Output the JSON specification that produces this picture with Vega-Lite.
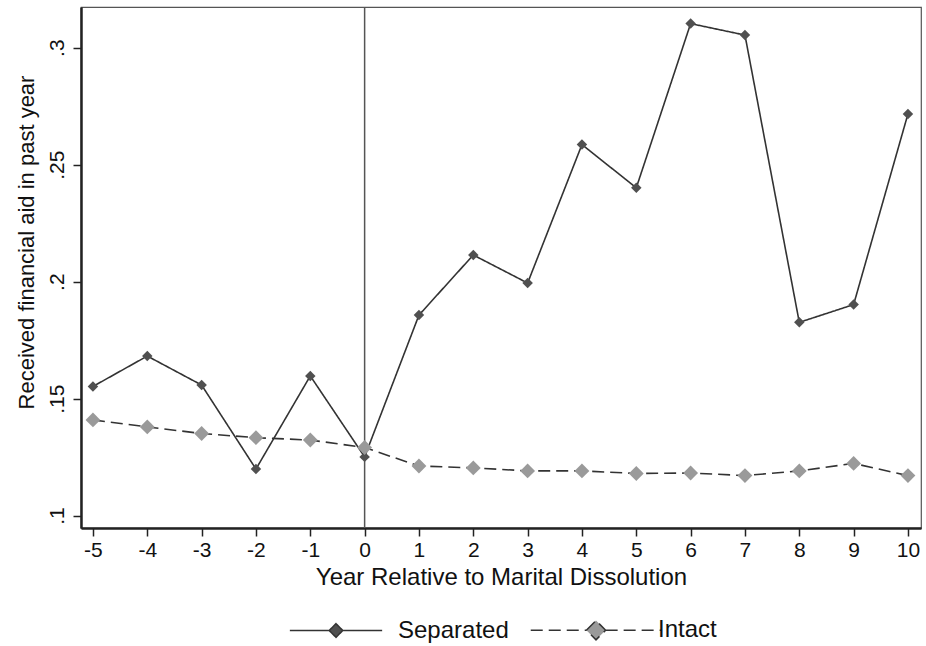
{
  "$schema": "https://vega.github.io/schema/vega-lite/v6.json",
  "width": 840,
  "height": 521,
  "autosize": {"type": "none"},
  "padding": {"left": 81, "top": 7, "right": 5, "bottom": 118},
  "background": "white",
  "config": {
    "font": "Liberation Sans",
    "view": {"stroke": "#555555", "strokeWidth": 1.2},
    "axis": {"grid": false, "domainColor": "#222222", "domainWidth": 2.5, "tickColor": "#222222", "tickWidth": 1.5, "tickSize": 8, "labelColor": "#111111", "titleColor": "#111111", "labelFont": "Liberation Sans", "titleFont": "Liberation Sans", "titleFontWeight": "normal"}
  },
  "datasets": {
    "series": [
      {"year": -5, "series": "Separated", "value": 0.1552},
      {"year": -4, "series": "Separated", "value": 0.1682},
      {"year": -3, "series": "Separated", "value": 0.1558},
      {"year": -2, "series": "Separated", "value": 0.1199},
      {"year": -1, "series": "Separated", "value": 0.1597},
      {"year": 0, "series": "Separated", "value": 0.1251},
      {"year": 1, "series": "Separated", "value": 0.1857},
      {"year": 2, "series": "Separated", "value": 0.2114},
      {"year": 3, "series": "Separated", "value": 0.1994},
      {"year": 4, "series": "Separated", "value": 0.2586},
      {"year": 5, "series": "Separated", "value": 0.2401},
      {"year": 6, "series": "Separated", "value": 0.3103},
      {"year": 7, "series": "Separated", "value": 0.3054},
      {"year": 8, "series": "Separated", "value": 0.1826},
      {"year": 9, "series": "Separated", "value": 0.1902},
      {"year": 10, "series": "Separated", "value": 0.2717},
      {"year": -5, "series": "Intact", "value": 0.1409},
      {"year": -4, "series": "Intact", "value": 0.1379},
      {"year": -3, "series": "Intact", "value": 0.1351},
      {"year": -2, "series": "Intact", "value": 0.1333},
      {"year": -1, "series": "Intact", "value": 0.1323},
      {"year": 0, "series": "Intact", "value": 0.1291},
      {"year": 1, "series": "Intact", "value": 0.1212},
      {"year": 2, "series": "Intact", "value": 0.1204},
      {"year": 3, "series": "Intact", "value": 0.1191},
      {"year": 4, "series": "Intact", "value": 0.1191},
      {"year": 5, "series": "Intact", "value": 0.1180},
      {"year": 6, "series": "Intact", "value": 0.1182},
      {"year": 7, "series": "Intact", "value": 0.1171},
      {"year": 8, "series": "Intact", "value": 0.1191},
      {"year": 9, "series": "Intact", "value": 0.1223},
      {"year": 10, "series": "Intact", "value": 0.1171}
    ],
    "marker": [{"year": 0}]
  },
  "encoding": {
    "x": {
      "field": "year", "type": "quantitative",
      "scale": {"domain": [-5.22, 10.24], "nice": false, "zero": false},
      "axis": {"values": [-5,-4,-3,-2,-1,0,1,2,3,4,5,6,7,8,9,10], "labelExpr": "'' + datum.value", "title": "Year Relative to Marital Dissolution", "labelFontSize": 21, "titleFontSize": 24, "labelPadding": 3, "titlePadding": 5, "labelFlush": false}
    }
  },
  "layer": [
    {
      "data": {"name": "marker"},
      "mark": {"type": "rule", "color": "#555555", "strokeWidth": 1.5},
      "encoding": {}
    },
    {
      "data": {"name": "series"},
      "mark": {"type": "line", "color": "#333333", "strokeWidth": 1.6},
      "encoding": {
        "y": {
          "field": "value", "type": "quantitative",
          "scale": {"domain": [0.0947, 0.3174], "nice": false, "zero": false},
          "axis": {"values": [0.1, 0.15, 0.2, 0.25, 0.3], "labelExpr": "substring(format(datum.value, '.2~f'), 1)", "title": "Received financial aid in past year", "labelAngle": 270, "labelAlign": "center", "labelBaseline": "alphabetic", "labelFontSize": 21, "labelPadding": 10, "titleFontSize": 22, "titlePadding": 8, "titleY": 235}
        },
        "strokeDash": {
          "field": "series", "type": "nominal",
          "scale": {"domain": ["Separated", "Intact"], "range": [[1, 0], [12, 6]]}
        }
      }
    },
    {
      "data": {"name": "series"},
      "mark": {"type": "point", "shape": "diamond", "filled": true, "opacity": 1},
      "encoding": {
        "y": {"field": "value", "type": "quantitative"},
        "color": {
          "field": "series", "type": "nominal",
          "scale": {"domain": ["Separated", "Intact"], "range": ["#505050", "#9a9a9a"]},
          "legend": {
            "title": null, "orient": "none", "legendX": 243, "legendY": 611, "direction": "horizontal",
            "labelFontSize": 24, "labelColor": "#111111", "labelFont": "Liberation Sans",
            "symbolSize": 100,
            "symbolType": "M-8.8,0L-1.3,0M1.3,0L8.8,0M-1.3,0L0,-1.3L1.3,0L0,1.3Z",
            "symbolStrokeColor": "#333333", "symbolStrokeWidth": 1.5,
            "labelOffset": 50, "columnPadding": 18,
            "encode": {"symbols": {"update": {"size": {"value": 100}, "opacity": {"value": 1}, "stroke": {"value": "#333333"}, "strokeWidth": {"value": 1.5}, "strokeDash": {"signal": "datum.value === 'Intact' ? [12, 6] : [1, 0]"}}}}
          }
        },
        "size": {
          "field": "series", "type": "nominal",
          "scale": {"domain": ["Separated", "Intact"], "range": [110, 220]},
          "legend": null
        }
      }
    }
  ]
}
